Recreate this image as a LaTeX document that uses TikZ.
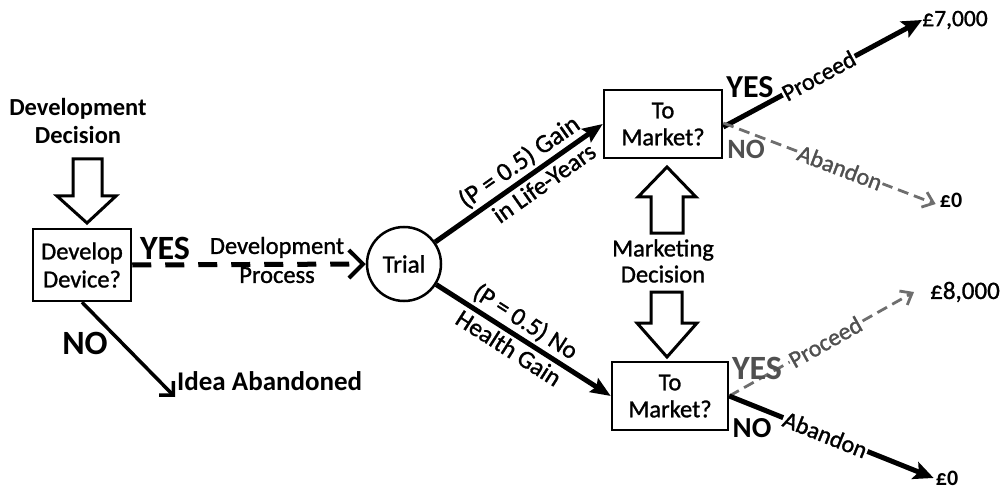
\documentclass[tikz,border=0pt]{standalone}
\usepackage{fontspec}
\setmainfont{Carlito}
\newfontfamily\semib{Carlito}[FakeBold=1.2]
\usetikzlibrary{arrows.meta}
\newcommand{\fsz}[2]{\fontsize{#1}{#2}\selectfont}
\definecolor{dgray}{RGB}{110,110,110}
\definecolor{tgray}{RGB}{80,80,80}
\begin{document}
\begin{tikzpicture}[x=1pt,y=-1pt,
  decbox/.style={draw, line width=2.5pt, align=center, inner sep=0pt, font=\semib\fsz{24.5}{27}},
  lbl/.style={align=center, inner sep=0pt},
  yn/.style={font=\bfseries\fsz{#1}{#1}, inner sep=0pt},
  thick black/.style={line width=5pt, -{Stealth[length=20pt,width=18pt,inset=4pt]}},
  gray dash/.style={draw=dgray, line width=2.8pt, dash pattern=on 11pt off 6pt, -{Straight Barb[length=10pt,width=16pt,line width=2.8pt]}},
  hollow/.style={draw, line width=3pt, line join=miter, fill=white},
  onl/.style={fill=white, inner sep=1pt, sloped, font=\semib\fsz{24}{24}},
  brl/.style={sloped, font=\semib\fsz{25}{25}, inner sep=0pt}
]
\useasboundingbox (0,0) rectangle (1002,492);

% nodes
\node[lbl, font=\bfseries\fsz{24.5}{28}] (devdec) at (78,121) {Development\\Decision};
\node[decbox, minimum width=98pt, minimum height=72pt, font=\semib\fsz{24.5}{28}] (dev) at (82,265) {Develop\\Device?};
\node[draw, circle, line width=2.5pt, minimum size=74pt, inner sep=0pt, font=\semib\fsz{25}{25}] (trial) at (404,264) {Trial};
\node[decbox, minimum width=118pt, minimum height=68pt] (mk1) at (663,124) {To\\Market?};
\node[decbox, minimum width=116pt, minimum height=68pt] (mk2) at (670,396) {To\\Market?};
\node[lbl, font=\semib\fsz{24.5}{26}] (mkdec) at (663,261) {Marketing\\Decision};

\node[font=\semib\fsz{23.5}{24}, inner sep=0pt] (v7) at (955,20) {£7,000};
\node[font=\bfseries\fsz{22}{22}, inner sep=0pt] (v0a) at (951,200) {£0};
\node[font=\semib\fsz{25}{25}, inner sep=0pt] (v8) at (965,292) {£8,000};
\node[font=\bfseries\fsz{22}{22}, inner sep=0pt] (v0b) at (947,478) {£0};
\node[font=\bfseries\fsz{27}{27}, inner sep=0pt, anchor=west] (idea) at (177,381) {Idea Abandoned};

\coordinate (ideatip) at (175,397);

% hollow arrows
\draw[hollow] (73,159) -- (102,159) -- (102,196) -- (116,196) -- (87,223) -- (57,196) -- (73,196) -- cycle;
\draw[hollow] (651,233) -- (683,233) -- (683,197) -- (696,197) -- (667,167) -- (638,197) -- (651,197) -- cycle;
\draw[hollow] (651,292) -- (682,292) -- (682,323) -- (697,323) -- (667,357) -- (637,323) -- (651,323) -- cycle;

% development process
\draw[line width=5pt, dash pattern=on 19pt off 14pt, -{Straight Barb[length=14pt,width=28pt,line width=4pt]}] (dev.east) -- (trial.west);
\node[lbl, font=\semib\fsz{24.5}{29}] (devproc) at (277,260) {Development\\Process};

% NO to idea abandoned
\draw[line width=3.5pt, -{Straight Barb[length=10pt,width=20pt,line width=3.5pt]}] (dev.south) -- (ideatip);

% trial branches
\draw[line width=5pt, -{Stealth[length=20pt,width=16pt,inset=3pt]}] (trial) -- (mk1.west)
  node[brl, pos=0.56, above=3pt, font=\semib\fsz{26}{26}] {(P = 0.5) Gain}
  node[brl, pos=0.60, below=3pt] {in Life-Years};
\draw[line width=5pt, -{Stealth[length=20pt,width=16pt,inset=3pt]}] (trial) -- (mk2.west)
  node[brl, pos=0.46, above=3pt] {(P = 0.5) No}
  node[brl, pos=0.46, below=3pt] {Health Gain};

% upper market outcomes
\draw[thick black] ([yshift=-3pt]mk1.east) -- (v7.west)
  node[onl, pos=0.48] {Proceed};
\draw[gray dash] ([yshift=1pt]mk1.east) -- ([xshift=-4pt,yshift=-4pt]v0a.west)
  node[onl, pos=0.55, text=tgray] {Abandon};
\node[yn=32] (yes1) at (750,87) {YES};
\node[yn=28, text=tgray] (no1) at (746,149) {NO};

% lower market outcomes
\draw[gray dash] (mk2.east) -- ([xshift=-16pt]v8.west)
  node[onl, pos=0.52, text=tgray] {Proceed};
\draw[thick black] (mk2.east) -- ([xshift=-2pt]v0b.west)
  node[onl, pos=0.47] {Abandon};
\node[yn=34, text=tgray] (yes2) at (757,368) {YES};
\node[yn=29] (no2) at (752,428) {NO};

% left YES/NO
\node[yn=34] (yes0) at (165,248) {YES};
\node[yn=34] (no0) at (85,343) {NO};
\end{tikzpicture}
\end{document}
